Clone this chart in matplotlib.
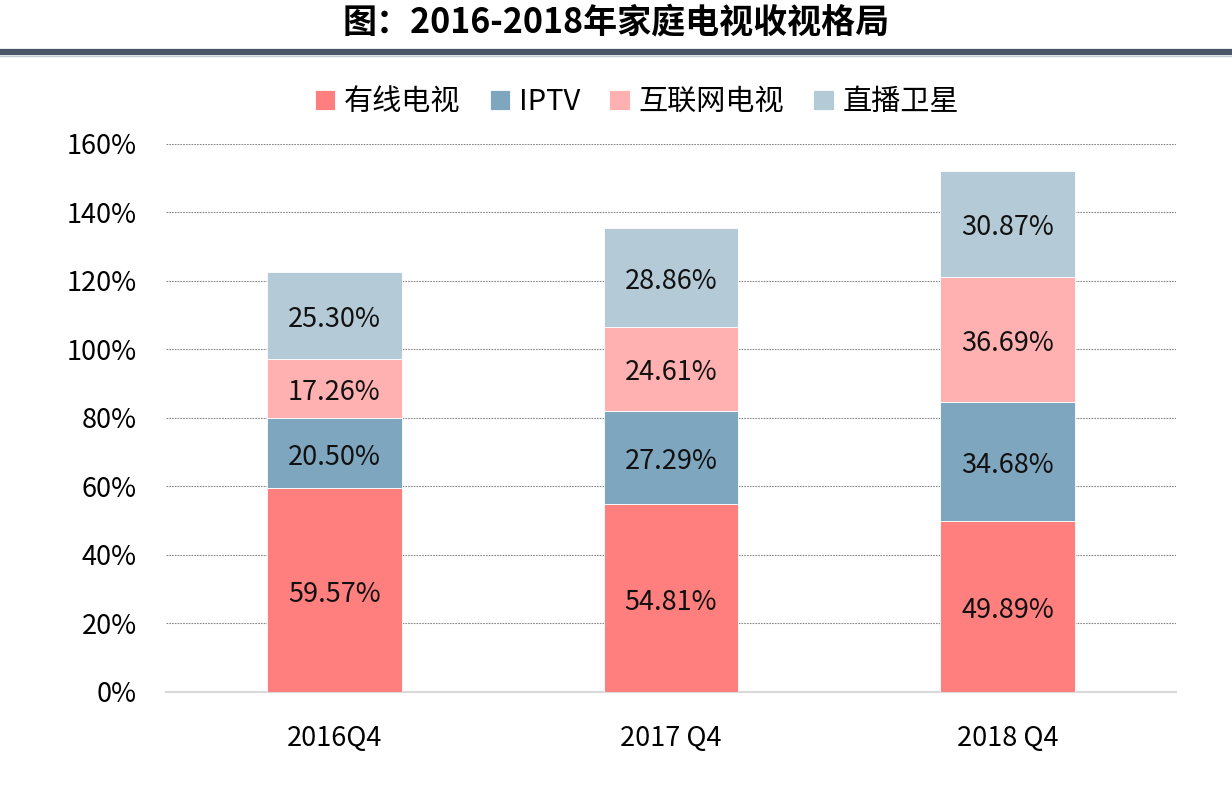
import matplotlib
matplotlib.use("Agg")
import matplotlib.pyplot as plt
from matplotlib.lines import Line2D
import numpy as np

plt.rcParams['font.family'] = ['Noto Sans CJK SC', 'DejaVu Sans']

categories = ["2016Q4", "2017 Q4", "2018 Q4"]
series_names = ["有线电视", "IPTV", "互联网电视", "直播卫星"]
cable = [59.57, 54.81, 49.89]
iptv = [20.50, 27.29, 34.68]
ott = [17.26, 24.61, 36.69]
satellite = [25.30, 28.86, 30.87]
yticks = [0, 20, 40, 60, 80, 100, 120, 140, 160]
colors = ["#FF7F7F", "#7FA6BF", "#FFB0B0", "#B4CAD6"]
title = "图：2016-2018年家庭电视收视格局"

fig = plt.figure(figsize=(12.32, 7.86), dpi=100)
ax = fig.add_axes([0.1347, 0.1196, 0.8198, 0.6972])

x = np.arange(len(categories))
bottom = np.zeros(len(categories))
for name, vals, c in zip(series_names, [cable, iptv, ott, satellite], colors):
    vals = np.array(vals)
    ax.bar(x, vals, width=0.4, bottom=bottom, color=c, label=name,
           edgecolor="white", linewidth=0.6, zorder=3)
    for xi, b, v in zip(x, bottom, vals):
        ax.annotate(f"{v:.2f}%", (xi, b + v / 2), xytext=(0, -3),
                    textcoords="offset points", ha="center", va="center",
                    fontsize=19.5, color="#111111", zorder=4)
    bottom += vals

ax.set_xlim(-0.5, 2.5)
ax.set_ylim(0, 160)
ax.set_yticks(yticks)
ax.set_yticklabels([f"{t}%" for t in yticks], fontsize=19.5)
ax.set_xticks(x)
ax.set_xticklabels(categories, fontsize=19.5)
ax.tick_params(axis="y", length=0, pad=21)
ax.tick_params(axis="x", length=0, pad=24)
for s in ["top", "right", "left"]:
    ax.spines[s].set_visible(False)
ax.spines["bottom"].set_color("#d9d9d9")
ax.spines["bottom"].set_linewidth(1.5)
ax.yaxis.grid(True, linestyle=(0, (1.5, 1)), color="#888888", linewidth=0.8, zorder=0)
ax.set_axisbelow(True)

leg = fig.legend(loc="center", bbox_to_anchor=(0.517, 0.870), ncol=4, frameon=False,
                 fontsize=21, handlelength=0.7, handleheight=0.7,
                 handletextpad=0.3, columnspacing=1.0)

fig.text(0.5, 0.972, title, ha="center", va="center", fontsize=24.5, fontweight="bold")
fig.add_artist(Line2D([0, 1], [0.934, 0.934], transform=fig.transFigure,
                      color="#4a5568", linewidth=4.5))
fig.add_artist(Line2D([0, 1], [0.929, 0.929], transform=fig.transFigure,
                      color="#c5ccd6", linewidth=1))

fig.savefig("out.png", dpi=100)
